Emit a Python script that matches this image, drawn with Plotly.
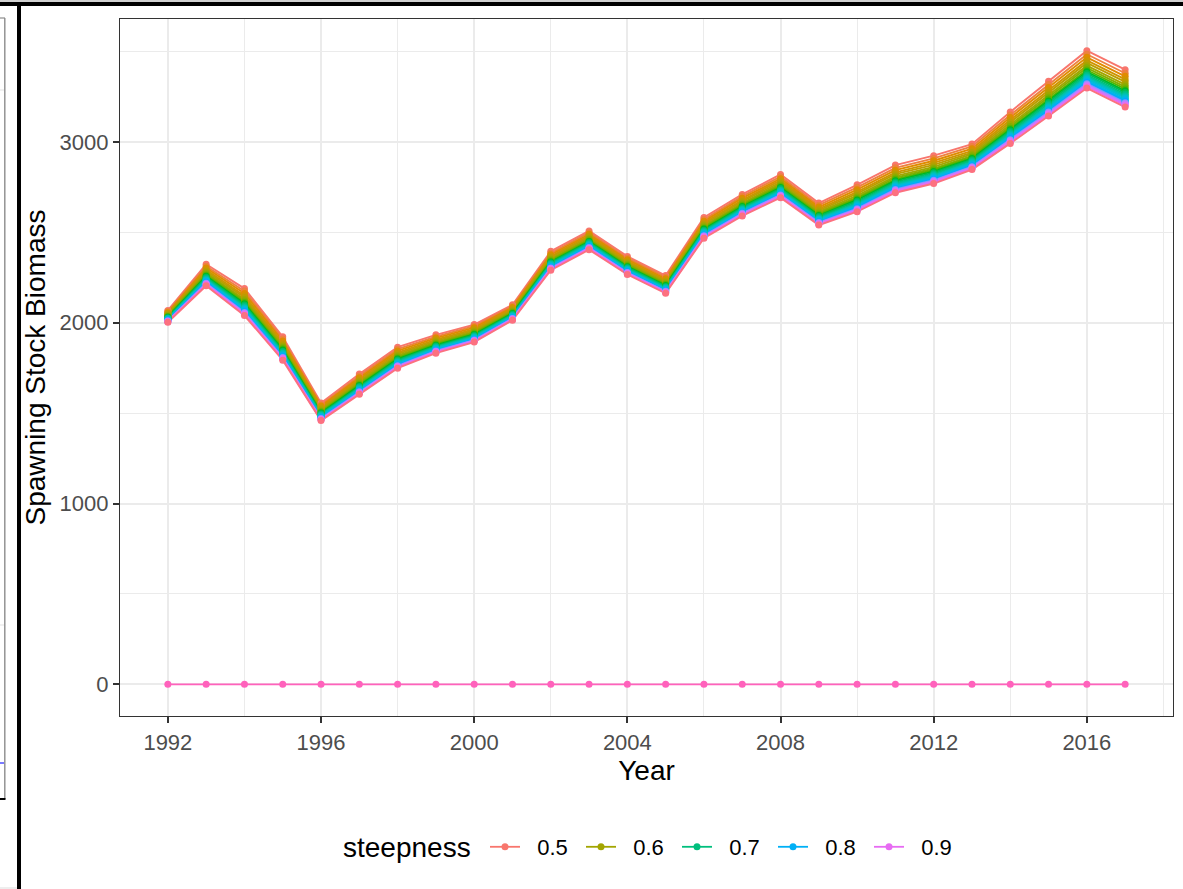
import math
import plotly.graph_objects as go

# Spawning stock biomass by year for a grid of steepness values
years = list(range(1992, 2018))

ssb_050 = [2068, 2324, 2189, 1922, 1556, 1716, 1865, 1933, 1990, 2099, 2395, 2508, 2367,
           2261, 2582, 2710, 2820, 2662, 2763, 2872, 2924, 2988, 3166, 3336, 3505, 3400]
ssb_052 = [2062, 2313, 2175, 1910, 1547, 1705, 1854, 1923, 1981, 2091, 2385, 2498, 2357,
           2252, 2571, 2699, 2808, 2650, 2749, 2857, 2909, 2975, 3149, 3318, 3485, 3380]
ssb_054 = [2056, 2303, 2162, 1899, 1539, 1696, 1844, 1915, 1973, 2084, 2376, 2489, 2349,
           2243, 2561, 2689, 2797, 2640, 2736, 2844, 2896, 2963, 3135, 3301, 3468, 3363]
ssb_056 = [2051, 2293, 2150, 1888, 1531, 1687, 1835, 1907, 1965, 2077, 2368, 2481, 2341,
           2236, 2552, 2679, 2787, 2630, 2724, 2832, 2884, 2951, 3121, 3286, 3451, 3346]
ssb_058 = [2047, 2285, 2140, 1879, 1524, 1679, 1827, 1900, 1958, 2071, 2361, 2474, 2334,
           2229, 2544, 2671, 2778, 2622, 2714, 2822, 2873, 2941, 3109, 3272, 3437, 3332]
ssb_060 = [2042, 2276, 2129, 1870, 1517, 1672, 1819, 1893, 1951, 2065, 2353, 2466, 2327,
           2222, 2536, 2662, 2769, 2613, 2703, 2811, 2862, 2932, 3096, 3259, 3422, 3317]
ssb_062 = [2038, 2269, 2120, 1863, 1511, 1665, 1812, 1887, 1945, 2060, 2347, 2460, 2321,
           2216, 2530, 2655, 2761, 2606, 2694, 2802, 2853, 2923, 3086, 3247, 3410, 3305]
ssb_064 = [2035, 2263, 2112, 1856, 1506, 1659, 1805, 1881, 1940, 2055, 2341, 2454, 2315,
           2211, 2523, 2649, 2754, 2599, 2686, 2793, 2845, 2915, 3076, 3237, 3398, 3293]
ssb_066 = [2031, 2257, 2105, 1849, 1501, 1653, 1799, 1876, 1935, 2051, 2336, 2449, 2310,
           2206, 2518, 2643, 2748, 2593, 2679, 2786, 2837, 2908, 3068, 3227, 3388, 3283]
ssb_068 = [2028, 2251, 2098, 1843, 1497, 1648, 1794, 1871, 1931, 2047, 2332, 2445, 2306,
           2201, 2512, 2637, 2742, 2588, 2672, 2779, 2830, 2902, 3060, 3218, 3379, 3274]
ssb_070 = [2025, 2246, 2091, 1838, 1492, 1643, 1789, 1867, 1926, 2043, 2327, 2440, 2301,
           2197, 2507, 2632, 2736, 2582, 2665, 2772, 2823, 2896, 3052, 3210, 3369, 3264]
ssb_072 = [2023, 2241, 2085, 1832, 1489, 1639, 1784, 1863, 1923, 2040, 2323, 2436, 2297,
           2193, 2503, 2627, 2731, 2577, 2659, 2766, 2817, 2890, 3045, 3202, 3361, 3256]
ssb_074 = [2021, 2237, 2080, 1828, 1485, 1635, 1780, 1859, 1919, 2037, 2319, 2432, 2294,
           2189, 2499, 2623, 2727, 2573, 2654, 2760, 2812, 2885, 3039, 3195, 3354, 3249]
ssb_076 = [2018, 2233, 2075, 1823, 1482, 1631, 1776, 1856, 1916, 2034, 2315, 2428, 2290,
           2186, 2495, 2619, 2722, 2569, 2649, 2755, 2806, 2880, 3033, 3188, 3347, 3242]
ssb_078 = [2016, 2229, 2070, 1819, 1478, 1627, 1772, 1852, 1912, 2031, 2312, 2425, 2287,
           2183, 2491, 2615, 2718, 2564, 2644, 2750, 2801, 2875, 3027, 3182, 3339, 3234]
ssb_080 = [2014, 2225, 2065, 1815, 1475, 1624, 1769, 1849, 1909, 2028, 2309, 2422, 2284,
           2180, 2487, 2611, 2714, 2561, 2639, 2745, 2796, 2871, 3022, 3176, 3333, 3228]
ssb_082 = [2012, 2222, 2061, 1811, 1473, 1621, 1765, 1846, 1907, 2026, 2306, 2419, 2281,
           2177, 2484, 2608, 2710, 2557, 2635, 2740, 2792, 2867, 3016, 3170, 3327, 3222]
ssb_084 = [2010, 2219, 2057, 1808, 1470, 1618, 1762, 1844, 1904, 2024, 2303, 2416, 2278,
           2174, 2481, 2605, 2707, 2554, 2631, 2737, 2788, 2863, 3012, 3165, 3322, 3217]
ssb_086 = [2009, 2216, 2053, 1805, 1468, 1615, 1759, 1841, 1902, 2022, 2300, 2413, 2276,
           2172, 2478, 2602, 2704, 2551, 2627, 2733, 2784, 2860, 3008, 3160, 3317, 3212]
ssb_088 = [2007, 2213, 2050, 1801, 1465, 1612, 1757, 1839, 1899, 2020, 2298, 2411, 2273,
           2169, 2475, 2599, 2700, 2548, 2624, 2729, 2780, 2856, 3003, 3156, 3311, 3206]
ssb_090 = [2006, 2210, 2047, 1799, 1463, 1610, 1754, 1837, 1897, 2018, 2296, 2409, 2271,
           2167, 2473, 2596, 2698, 2545, 2621, 2726, 2777, 2853, 3000, 3152, 3307, 3202]
ssb_095 = [0, 0, 0, 0, 0, 0, 0, 0, 0, 0, 0, 0, 0,
           0, 0, 0, 0, 0, 0, 0, 0, 0, 0, 0, 0, 0]
ssb_099 = [2003, 2205, 2040, 1793, 1459, 1605, 1749, 1832, 1893, 2014, 2291, 2404, 2267,
           2163, 2468, 2591, 2692, 2540, 2614, 2719, 2770, 2847, 2992, 3143, 3298, 3193]

steepness = [0.50, 0.52, 0.54, 0.56, 0.58, 0.60, 0.62, 0.64, 0.66, 0.68, 0.70, 0.72,
             0.74, 0.76, 0.78, 0.80, 0.82, 0.84, 0.86, 0.88, 0.90, 0.95, 0.99]
series = [ssb_050, ssb_052, ssb_054, ssb_056, ssb_058, ssb_060, ssb_062, ssb_064,
          ssb_066, ssb_068, ssb_070, ssb_072, ssb_074, ssb_076, ssb_078, ssb_080,
          ssb_082, ssb_084, ssb_086, ssb_088, ssb_090, ssb_095, ssb_099]
legend_levels = [0.5, 0.6, 0.7, 0.8, 0.9]
n_levels = 50  # colour wheel spans steepness 0.50 .. 0.99 in steps of 0.01


def hcl_hex(h, c=100.0, l=65.0):
    """Polar CIE-Luv colour to sRGB hex (same model as R's hcl())."""
    xn, yn, zn = 95.047, 100.0, 108.883
    hr = math.radians(h)
    u, v = c * math.cos(hr), c * math.sin(hr)
    y = yn * ((l + 16) / 116) ** 3 if l > 8 else yn * l / 903.3
    den = xn + 15 * yn + 3 * zn
    un, vn = 4 * xn / den, 9 * yn / den
    up, vp = u / (13 * l) + un, v / (13 * l) + vn
    x = y * 9 * up / (4 * vp)
    z = y * (12 - 3 * up - 20 * vp) / (4 * vp)
    x, y, z = x / 100, y / 100, z / 100
    r = 3.2404542 * x - 1.5371385 * y - 0.4985314 * z
    g = -0.9692660 * x + 1.8760108 * y + 0.0415560 * z
    b = 0.0556434 * x - 0.2040259 * y + 1.0572252 * z

    def gam(t):
        t = 12.92 * t if t <= 0.0031308 else 1.055 * t ** (1 / 2.4) - 0.055
        return max(0, min(255, round(t * 255)))

    return "#{:02X}{:02X}{:02X}".format(gam(r), gam(g), gam(b))


def level_colour(s):
    idx = round((s - 0.5) * 100)
    return hcl_hex(15 + 360 * idx / n_levels)


FONT = "Liberation Sans, Arial, sans-serif"
W, H = 1183, 889
ML, MR, MT, MB = 120, 10, 19, 173
PW, PH = W - ML - MR, H - MT - MB


def px(xp):
    return (xp - ML) / PW


def py(yp):
    return (H - MB - yp) / PH


fig = go.Figure()

# lines for every level first, then the points on top
for s, vals in zip(steepness, series):
    fig.add_trace(go.Scatter(x=years, y=vals, mode="lines",
                             line=dict(color=level_colour(s), width=1.9),
                             showlegend=False, hoverinfo="skip"))
for s, vals in zip(steepness, series):
    fig.add_trace(go.Scatter(x=years, y=vals, mode="markers",
                             marker=dict(color=level_colour(s), size=7),
                             showlegend=False, name=f"{s:g}"))

# legend keys (label padded away from the key glyph)
for s in legend_levels:
    fig.add_trace(go.Scatter(x=[None], y=[None], mode="lines+markers",
                             line=dict(color=level_colour(s), width=1.8),
                             marker=dict(color=level_colour(s), size=7),
                             name="\u00a0\u00a0" + f"{s:g}", showlegend=True))

grid = "#EBEBEB"
frame = "#333333"
axis_common = dict(
    showline=True, mirror=True, linecolor=frame, linewidth=1.2,
    ticks="outside", ticklen=6, tickwidth=1.5, tickcolor=frame,
    showgrid=True, gridcolor=grid, gridwidth=1.8, zeroline=False,
    tickfont=dict(family=FONT, size=22, color="#4D4D4D"),
)

fig.update_xaxes(
    range=[1990.75, 2018.25], tick0=1992, dtick=4,
    minor=dict(dtick=2, tick0=1992, showgrid=True, gridcolor=grid, gridwidth=1, ticks=""),
    title=dict(text="Year", font=dict(family=FONT, size=28, color="black"), standoff=6),
    **axis_common,
)
fig.update_yaxes(
    range=[-175, 3680], tick0=0, dtick=1000,
    minor=dict(dtick=500, tick0=0, showgrid=True, gridcolor=grid, gridwidth=1, ticks=""),
    title=dict(text="Spawning Stock Biomass", font=dict(family=FONT, size=28, color="black"),
               standoff=5),
    **axis_common,
)


def pline(x0, x1, y0, y1, color, width):
    return dict(type="line", xref="paper", yref="paper",
                x0=px(x0), x1=px(x1), y0=py(y0), y1=py(y1),
                line=dict(color=color, width=width))


def prect(x0, x1, y0, y1, color):
    return dict(type="rect", xref="paper", yref="paper",
                x0=px(x0), x1=px(x1), y0=py(y0), y1=py(y1),
                fillcolor=color, line=dict(width=0))


# surrounding frame pieces of the page
shapes = [
    prect(0, W, 0, 2, "#D0D0D0"),
    prect(0, W, 2, 6, "black"),
    prect(17, 21, 2, H, "black"),
    pline(0, 4, 90, 90, grid, 1.5),
    pline(0, 4, 625, 625, grid, 1.5),
    pline(0, 5, 18, 18, "#8C8C8C", 1.2),
    pline(4.8, 4.8, 18, 799, "#8C8C8C", 1.4),
    pline(0, 5.5, 799, 799, "black", 2),
    pline(0, 4, 763, 763, "#2020FF", 1.2),
    pline(0, 17, 888, 888, "#DDDDDD", 1),
]

# legend title set as its own label to the left of the keys
annotations = [
    dict(text="steepness", xref="paper", yref="paper", x=px(341), y=py(847),
         xanchor="left", yanchor="middle", showarrow=False,
         font=dict(family=FONT, size=28, color="black")),
]

fig.update_layout(
    width=W, height=H,
    margin=dict(l=ML, r=MR, t=MT, b=MB),
    paper_bgcolor="white", plot_bgcolor="white",
    shapes=shapes,
    annotations=annotations,
    legend=dict(
        orientation="h", x=px(485), xanchor="left", y=py(847), yanchor="middle",
        font=dict(family=FONT, size=22, color="black"),
        entrywidth=51, entrywidthmode="pixels",
        bgcolor="rgba(0,0,0,0)",
    ),
    hovermode="closest",
)

fig.write_html("out.html")
